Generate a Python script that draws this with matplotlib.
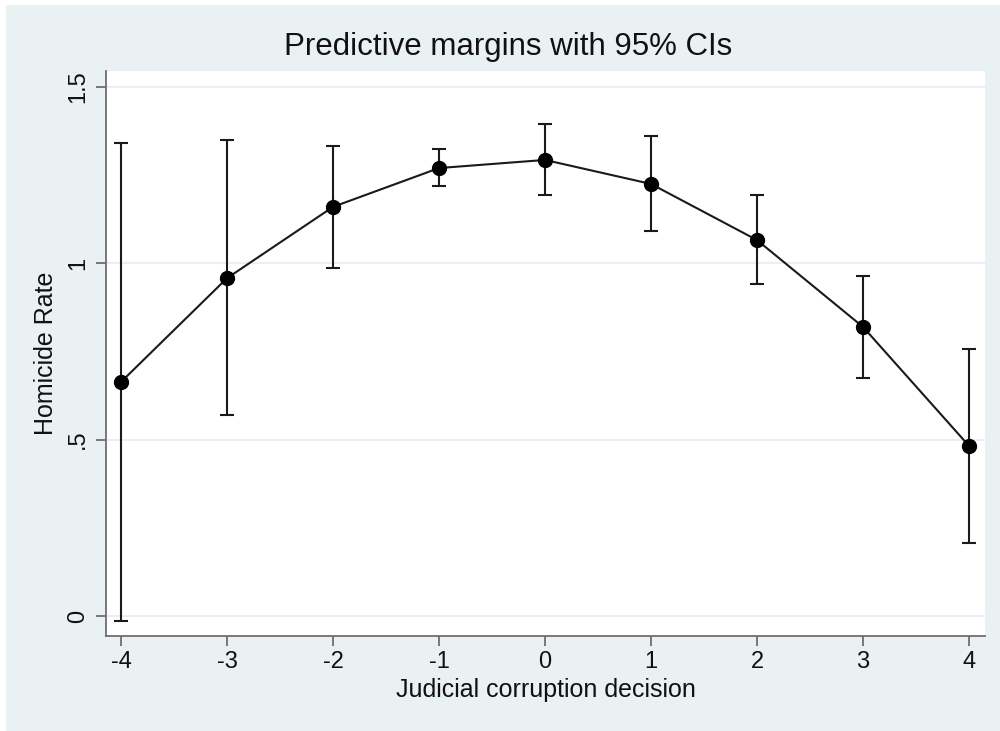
import matplotlib
matplotlib.use("Agg")
import matplotlib.pyplot as plt
from matplotlib.patches import Rectangle

x_vals = [-4, -3, -2, -1, 0, 1, 2, 3, 4]
margins = [0.663, 0.957, 1.159, 1.269, 1.292, 1.224, 1.065, 0.819, 0.482]
ci_low = [-0.014, 0.569, 0.986, 1.218, 1.193, 1.091, 0.941, 0.674, 0.207]
ci_high = [1.340, 1.348, 1.331, 1.323, 1.394, 1.360, 1.193, 0.963, 0.756]
y_ticks = [0, 0.5, 1, 1.5]
y_labels = ["0", ".5", "1", "1.5"]

plt.rcParams['font.family'] = ['Liberation Sans', 'DejaVu Sans']

bg = '#eaf1f3'
fig = plt.figure(figsize=(10, 7.31), dpi=100, facecolor='white')
fig.patches.append(Rectangle((6/1000, 0), 1 - 6/1000, 1 - 5/731,
                             transform=fig.transFigure, facecolor=bg,
                             edgecolor='none', zorder=-10))

ax = fig.add_axes([0.106, 0.1299, 0.879, 0.773])
ax.set_facecolor('white')

yerr = [[m - l for m, l in zip(margins, ci_low)],
        [h - m for m, h in zip(margins, ci_high)]]
ax.errorbar(x_vals, margins, yerr=yerr, fmt='none', ecolor='#1a1a1a',
            elinewidth=1.5, capsize=5, capthick=1.5, zorder=3)
ax.plot(x_vals, margins, color='#1a1a1a', lw=1.5, marker='o',
        markersize=10, markerfacecolor='black', markeredgecolor='black',
        zorder=4)

ax.set_xlim(-4.1415, 4.151)
ax.set_ylim(-0.0567, 1.544)
ax.set_xticks(x_vals)
ax.set_xticklabels([str(v) for v in x_vals])
ax.set_yticks(y_ticks)
ax.set_yticklabels(y_labels, rotation=90, va='center')

ax.grid(axis='y', color='#e9eff2', lw=1.5, zorder=0)
ax.set_axisbelow(True)

for s in ['top', 'right']:
    ax.spines[s].set_visible(False)
for s in ['left', 'bottom']:
    ax.spines[s].set_color('#6e6e6e')
    ax.spines[s].set_linewidth(1.3)

ax.tick_params(axis='both', direction='out', length=7, width=1.3,
               color='#6e6e6e', labelsize=17, labelcolor='#111111')
ax.tick_params(axis='x', pad=4)
ax.tick_params(axis='y', pad=5)

ax.set_xlabel('Judicial corruption decision', fontsize=18, color='#111111', va='center')
ax.xaxis.set_label_coords(0.5, (636 - 690) / 565)
ax.set_ylabel('Homicide Rate', fontsize=18, color='#111111', va='center')
ax.yaxis.set_label_coords((46.5 - 106) / 879, 0.5)
fig.text(0.508, 1 - 47/731, 'Predictive margins with 95% CIs', fontsize=22.5,
         color='#111111', ha='center', va='center')

fig.savefig('out.png', dpi=100, facecolor=fig.get_facecolor())
